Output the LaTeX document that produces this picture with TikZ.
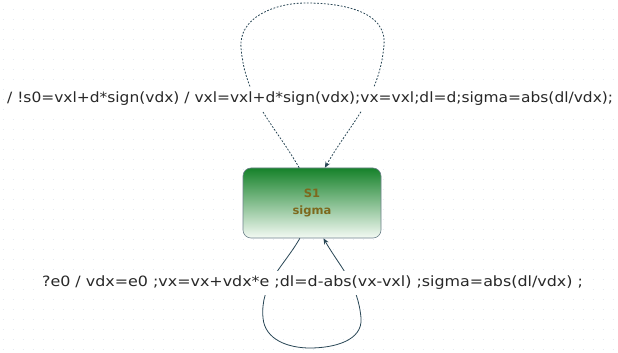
\documentclass[tikz,border=0pt]{standalone}
\usepackage{fontspec}
\setmainfont{DejaVu Sans}
\newfontfamily\toplabfont[FakeStretch=1.088]{DejaVu Sans}
\newfontfamily\botlabfont[FakeStretch=1.12]{DejaVu Sans}
\usetikzlibrary{arrows.meta}
\definecolor{gridc}{RGB}{226,234,243}
\definecolor{topgreen}{RGB}{22,130,42}
\definecolor{botgreen}{RGB}{244,250,244}
\definecolor{statetxt}{RGB}{125,105,30}
\definecolor{edgec}{RGB}{40,70,85}
\definecolor{labtxt}{RGB}{40,40,40}
\definecolor{boxborder}{RGB}{110,130,140}
\tikzset{
  statebox/.style={draw=boxborder, line width=0.6pt, rounded corners=8pt,
    minimum width=138pt, minimum height=70pt, top color=topgreen, bottom color=botgreen,
    align=center, font=\fontsize{11.5}{17}\selectfont\bfseries, text=statetxt},
  translabel/.style={fill=white, text=labtxt, inner xsep=1pt, inner ysep=5pt},
  dotedge/.style={draw=edgec, line width=0.8pt, dash pattern=on 1.8pt off 1.6pt, -{Stealth[length=6pt,width=5pt]}},
  soledge/.style={draw=edgec, line width=0.8pt, -{Stealth[length=6pt,width=5pt]}}
}
\begin{document}
\begin{tikzpicture}[x=1pt,y=1pt]
\useasboundingbox (0,0) rectangle (618,353);
\fill[white] (0,0) rectangle (618,353);
\foreach \yy in {3,13,...,353} {
  \draw[gridc, line width=1pt, dash pattern=on 1pt off 9pt] (2.5,\yy) -- (618,\yy);
}
\node[statebox] (s1) at (312,150) {S1\\sigma};
% top self loop
\coordinate (tl) at (241,305);
\coordinate (tt) at (306,350);
\coordinate (tr) at (384,308);
\draw[dotedge] (s1.110) to[out=120,in=-85] (tl) to[out=95,in=180] (tt)
  to[out=0,in=85] (tr) to[out=-95,in=60] (s1.70);
% bottom self loop
\coordinate (bl) at (263,35);
\coordinate (bb) at (310,5);
\coordinate (br) at (361,35);
\draw[soledge] (s1.-109) to[out=-120,in=95] (bl) to[out=-85,in=180] (bb)
  to[out=0,in=-85] (br) to[out=95,in=-60] (s1.-72);
% labels
\node[translabel, anchor=west, font=\toplabfont\fontsize{14.2}{16}\selectfont] (toplab) at (6,254)
  {/ !s0=vxl+d*sign(vdx) / vxl=vxl+d*sign(vdx);vx=vxl;dl=d;sigma=abs(dl/vdx);};
\node[translabel, font=\botlabfont\fontsize{14.2}{16}\selectfont] (botlab) at (312.5,70)
  {?e0 / vdx=e0 ;vx=vx+vdx*e ;dl=d-abs(vx-vxl) ;sigma=abs(dl/vdx) ;};
\end{tikzpicture}
\end{document}
